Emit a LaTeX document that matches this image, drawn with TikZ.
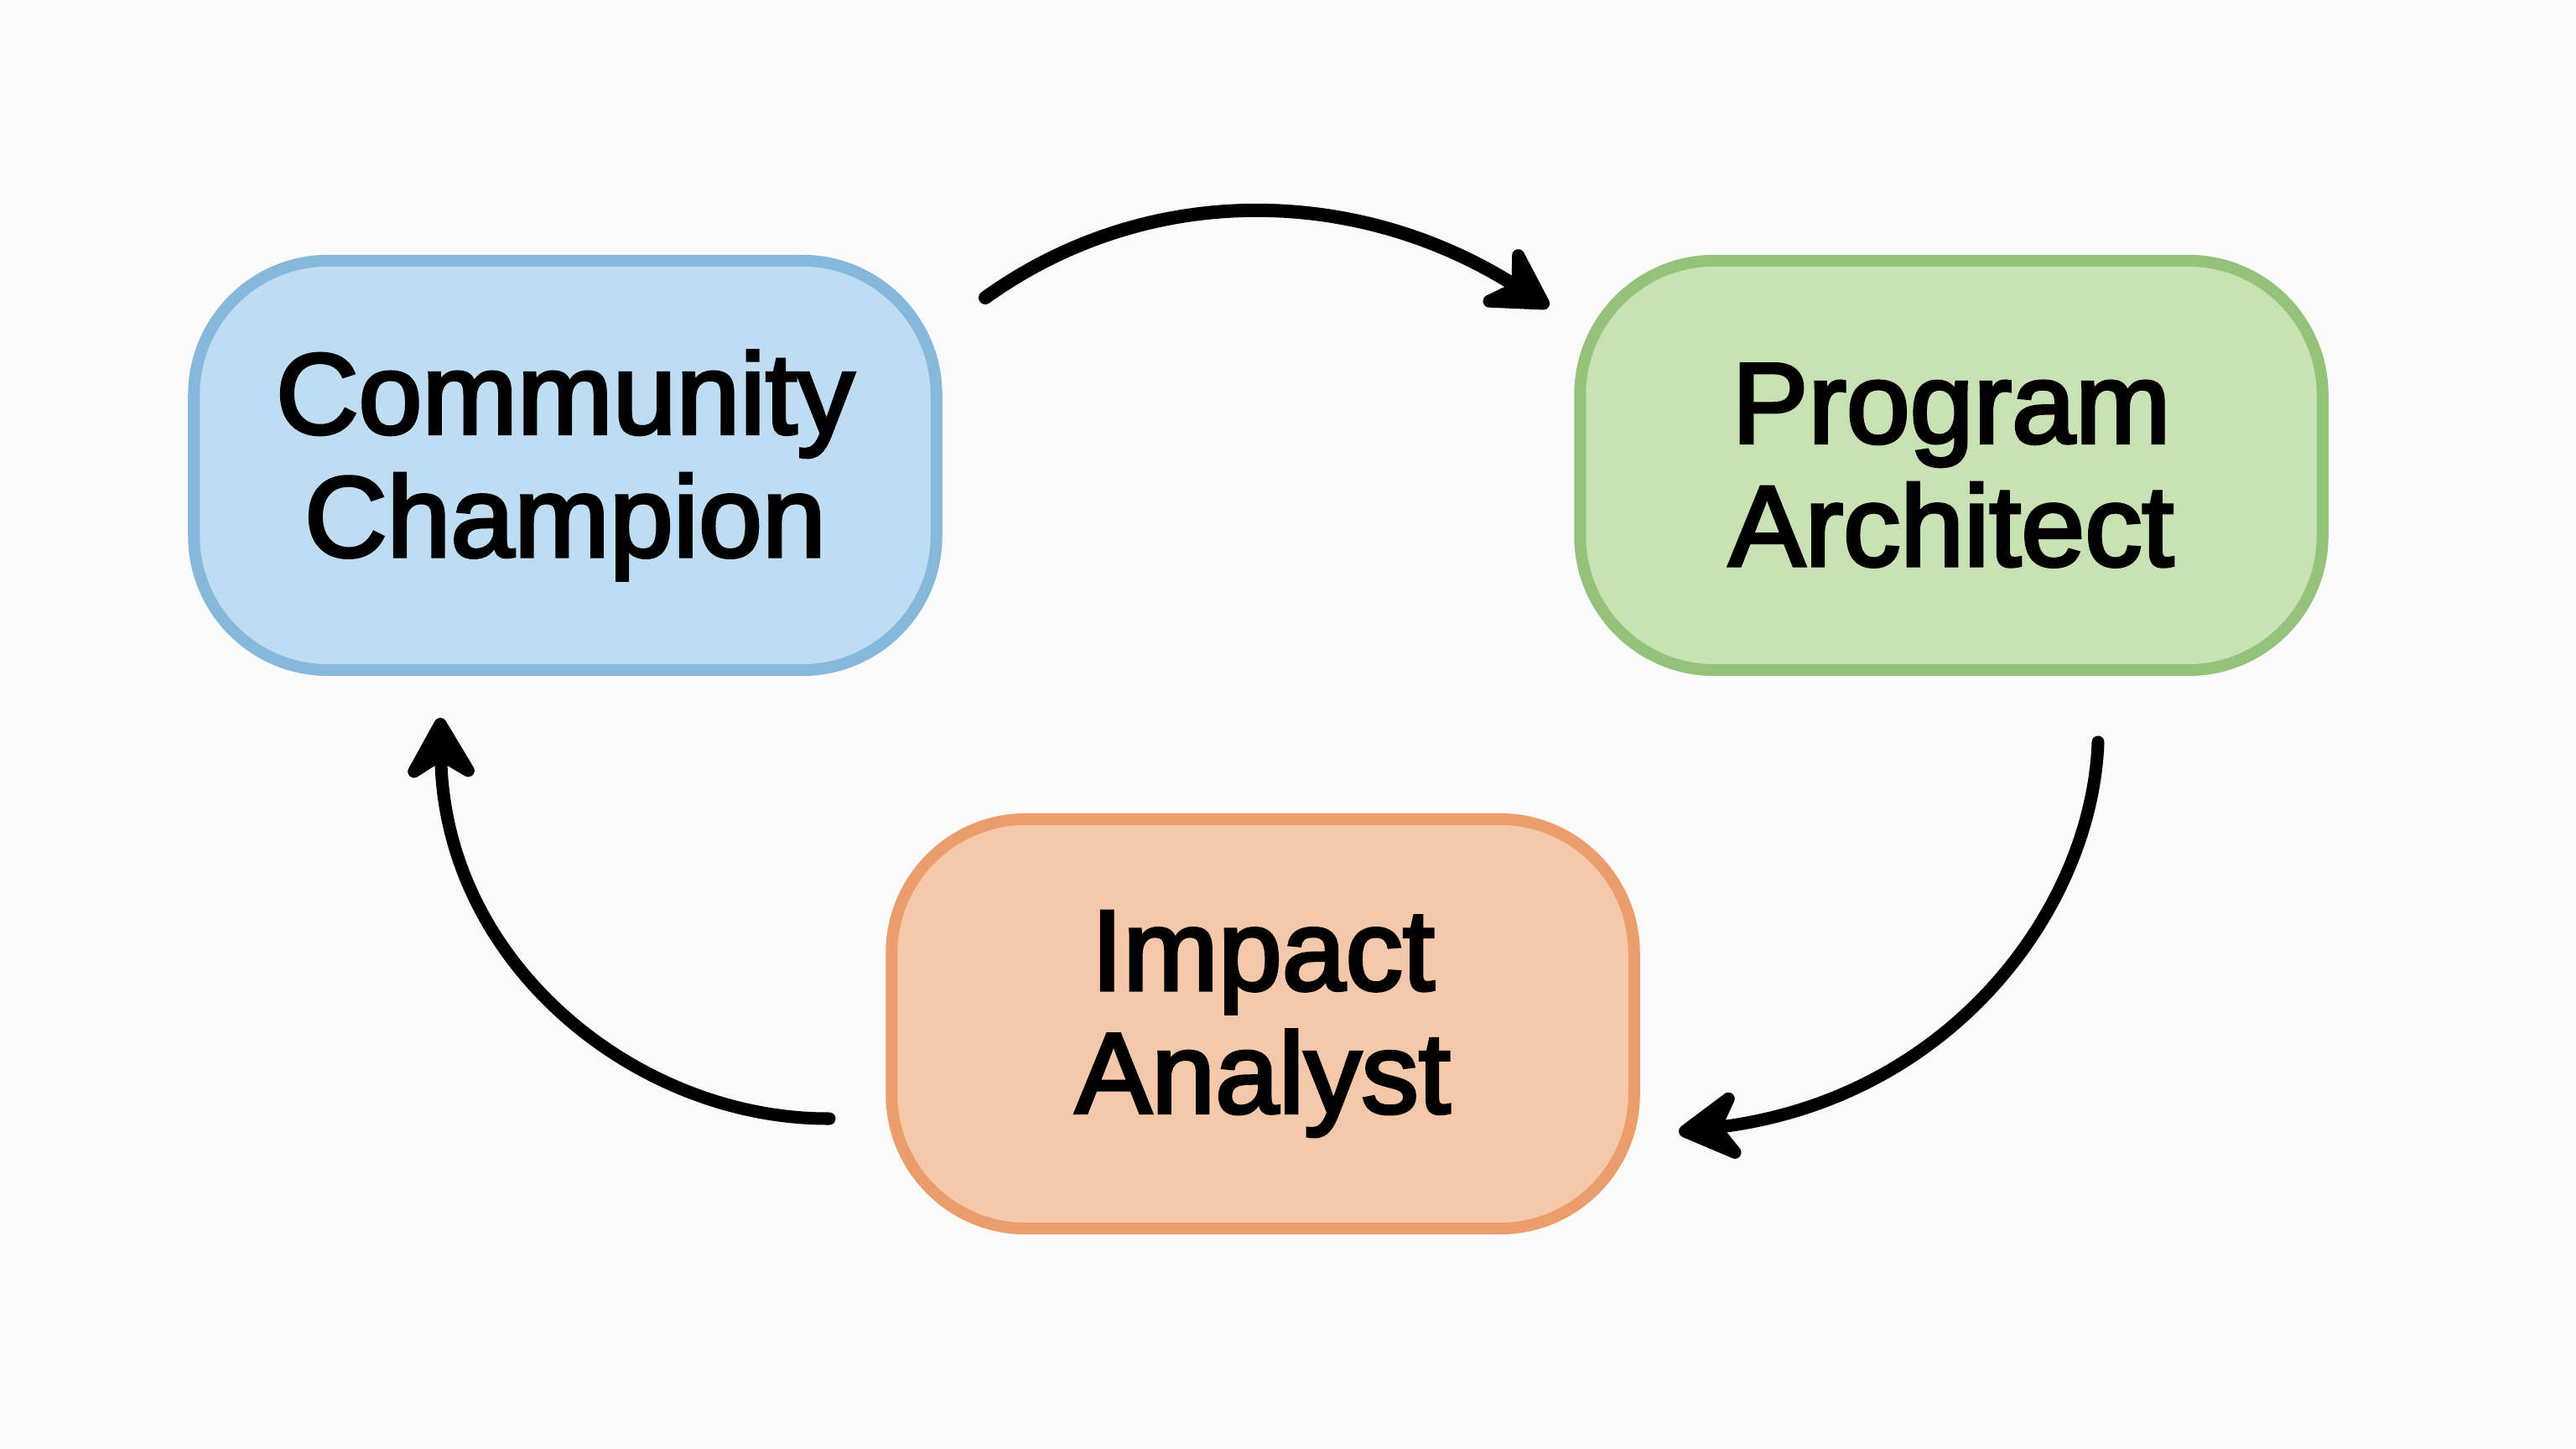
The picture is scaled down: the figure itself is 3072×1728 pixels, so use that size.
\documentclass[tikz,border=0pt]{standalone}
\usepackage{fontspec}
\setmainfont{Liberation Sans}[BoldFont={Liberation Sans},BoldFeatures={FakeBold=3}]
\usetikzlibrary{arrows.meta}
\definecolor{bgc}{HTML}{FAFAFA}
\definecolor{bluefill}{HTML}{BEDCF2}
\definecolor{blueline}{HTML}{86B8DC}
\definecolor{greenfill}{HTML}{C8E2B3}
\definecolor{greenline}{HTML}{95C27B}
\definecolor{orangefill}{HTML}{F5C8AA}
\definecolor{orangeline}{HTML}{EC9D6C}
\tikzset{
  rolebox/.style={draw, line width=0.14cm, rounded corners=1.6cm,
    minimum width=8.85cm, minimum height=4.88cm, align=center,
    font=\fontsize{38.8}{41.7}\selectfont\bfseries, text=black},
  cyclearrow/.style={line width=0.15cm, line cap=round, black,
    -{Stealth[length=0.92cm,width=1.05cm,inset=0.32cm,round]}}
}
\begin{document}
\begin{tikzpicture}[x=0.01cm,y=-0.01cm]
\useasboundingbox[fill=bgc] (0,0) rectangle (3072,1728);
\node[rolebox, fill=bluefill, draw=blueline] (cc) at (674,555) {Community\\Champion};
\node[rolebox, fill=greenfill, draw=greenline] (pa) at (2327,555) {Program\\Architect};
\node[rolebox, fill=orangefill, draw=orangeline] (ia) at (1506,1221) {Impact\\Analyst};
\coordinate (a1s) at (1175,355);
\coordinate (a1e) at (1847,366);
\coordinate (a2s) at (2502,885);
\coordinate (a2e) at (2002,1350);
\coordinate (a3s) at (989,1334);
\coordinate (a3e) at (525,856);
\draw[cyclearrow, line width=0.16cm] (a1s) .. controls (1370,215) and (1620,222) .. (a1e);
\draw[cyclearrow] (a2s) .. controls (2495,1080) and (2330,1310) .. (a2e);
\draw[cyclearrow] (a3s) .. controls (760,1335) and (530,1150) .. (a3e);
\end{tikzpicture}
\end{document}
